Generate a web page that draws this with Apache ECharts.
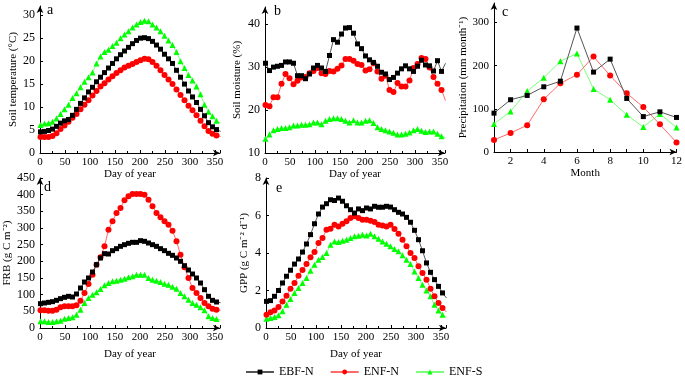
<!DOCTYPE html>
<html><head><meta charset="utf-8">
<script src="https://cdn.jsdelivr.net/npm/echarts@6/dist/echarts.min.js"></script>
<style>html,body{margin:0;padding:0;background:#fff}#c{width:685px;height:378px}</style>
</head><body><div id="c"></div>
<script>
const days = [1,9,17,25,33,41,49,57,65,73,81,89,97,105,113,121,129,137,145,153,161,169,177,185,193,201,209,217,225,233,241,249,257,265,273,281,289,297,305,313,321,329,337,345,353,361];
const months = [1,2,3,4,5,6,7,8,9,10,11,12];
const seriesNames = ['EBF-N','ENF-N','ENF-S'];

// a: soil temperature
const tempEBFN = [4.6,4.7,4.9,5.2,5.8,6.5,7.0,7.3,8.2,9.5,10.8,12.0,13.3,14.3,15.5,16.5,17.5,18.5,19.5,20.5,21.4,22.2,23.0,23.8,24.5,25.0,25.1,24.9,24.3,23.5,22.6,21.5,20.5,19.5,18.0,16.5,15.0,13.5,12.2,11.0,9.5,8.1,6.6,5.7,5.1,4.7];
const tempENFN = [3.5,3.5,3.5,3.7,4.3,5.2,6.0,6.8,7.7,8.5,9.5,10.5,11.5,12.5,13.5,14.5,15.2,16.0,16.7,17.4,18.0,18.6,19.0,19.4,19.8,20.2,20.5,20.4,19.8,19.0,18.0,17.0,16.0,15.0,13.8,12.6,11.5,10.3,9.3,8.2,7.0,5.8,4.8,4.2,3.8,3.6];
const tempENFS = [6.1,6.4,6.5,6.8,7.5,8.5,9.5,10.5,12.0,13.0,14.3,15.5,16.5,17.5,19.5,21.0,22.0,22.5,23.3,24.0,25.0,25.8,26.5,27.3,28.0,28.5,28.8,28.7,28.0,27.3,26.5,25.5,24.5,23.5,22.0,20.0,18.5,17.0,15.8,14.5,12.8,10.5,9.0,8.0,7.0,6.5];

// b: soil moisture
const moistEBFN = [30.9,29.2,30.0,30.2,30.4,31.2,31.2,30.9,28.0,28.0,27.3,28.4,29.8,30.4,29.8,29.0,32.7,36.4,35.8,37.7,39.1,39.2,37.9,35.4,34.3,32.6,31.7,31.1,30.2,28.8,28.4,27.1,27.6,28.6,29.6,30.3,29.6,29.0,30.2,31.6,30.5,30.3,29.1,31.5,29.0,30.9];
const moistENFN = [21.2,20.9,23.0,23.0,26.1,28.4,27.4,26.0,26.8,27.6,27.7,28.6,29.1,29.8,28.6,28.4,29.1,29.0,29.6,30.4,31.9,31.9,31.5,30.7,30.5,29.2,29.5,30.9,29.0,27.3,28.0,24.7,24.2,26.3,25.5,25.5,26.9,29.8,30.7,32.1,31.9,29.9,27.7,26.1,24.7,22.2];
const moistENFS = [13.3,14.3,15.3,15.6,15.8,15.8,16.0,16.4,16.4,16.6,16.6,16.7,17.1,17.1,16.7,17.5,17.9,18.1,18.1,17.9,17.5,17.1,17.6,17.1,17.1,17.5,17.6,17.0,16.0,15.6,15.3,15.0,14.7,14.3,14.3,14.5,14.8,15.3,15.6,15.2,14.9,15.0,15.0,14.5,13.9,13.6];

// c: precipitation
const precEBFN = [90,121,131,151,164,287,185,215,124,82,93,80];
const precENFN = [28,44,62,122,159,179,221,177,136,104,64,22];
const precENFS = [65,94,141,172,210,228,146,121,86,58,88,57];

// d: FRB
const frbEBFN = [73,75,77,79,83,88,92,95,93,102,120,138,150,168,190,210,223,222,232,238,245,250,254,257,257,262,260,255,250,245,238,232,224,218,210,200,187,174,162,150,135,115,95,83,78,76];
const frbENFN = [53,53,52,52,55,62,65,65,65,68,82,105,132,160,190,212,245,295,320,345,360,383,395,402,402,402,400,385,365,345,332,320,310,292,260,220,182,150,120,105,90,75,65,58,55,53];
const frbENFS = [20,20,18,18,20,22,28,30,32,40,55,75,90,100,107,117,128,135,140,142,145,148,152,155,160,160,160,150,145,142,138,133,130,124,118,105,95,85,75,70,62,53,35,30,27,25];

// e: GPP
const gppEBFN = [1.42,1.46,1.69,2.0,2.4,2.76,3.08,3.41,3.68,4.05,4.48,4.98,5.56,6.08,6.45,6.63,6.84,6.8,6.93,6.76,6.52,6.31,6.13,6.35,6.26,6.4,6.35,6.49,6.44,6.44,6.49,6.45,6.31,6.17,6.08,5.9,5.64,5.21,4.71,4.12,3.47,2.97,2.58,2.22,1.87,1.6];
const gppENFN = [0.71,0.84,0.94,1.12,1.42,1.72,2.1,2.4,2.79,3.1,3.41,3.77,4.05,4.53,4.8,5.24,5.3,5.51,5.42,5.56,5.69,5.87,5.96,5.87,5.78,5.78,5.72,5.65,5.51,5.47,5.42,5.51,5.28,5.03,4.71,4.36,4.0,3.73,3.29,2.93,2.58,2.1,1.69,1.33,1.07,0.85];
const gppENFS = [0.5,0.53,0.59,0.68,0.89,1.24,1.55,1.87,2.13,2.4,2.67,3.06,3.38,3.64,3.79,4.0,4.44,4.62,4.59,4.66,4.71,4.8,4.89,4.92,4.98,4.94,5.03,4.89,4.76,4.62,4.5,4.36,4.21,4.09,3.88,3.64,3.41,3.02,2.67,2.31,2.0,1.69,1.24,0.94,0.71,0.57];

const FONT = 'Liberation Serif';
const styles = [
  {symbol:'rect', size:5, color:'#000000', line:'#555555'},
  {symbol:'circle', size:6, color:'#ff0000', line:'#ff6a6a'},
  {symbol:'triangle', size:6, color:'#00ff00', line:'#7cff7c'}
];

function xAxisDef(gi, name, min, max, interval, nameGap, opts) {
  return Object.assign({
    type:'value', gridIndex:gi, min:min, max:max, interval:interval,
    name:name, nameLocation:'middle', nameGap:nameGap,
    nameTextStyle:{fontFamily:FONT, fontSize:11, color:'#000'},
    axisLine:{show:true, onZero:false, symbol:['none','arrow'], symbolSize:[5,7], lineStyle:{color:'#000', width:1}},
    axisTick:{show:true, inside:true, length:3, lineStyle:{color:'#000'}},
    minorTick:{show:true, splitNumber:2, length:2, lineStyle:{color:'#000'}},
    axisLabel:{fontFamily:FONT, fontSize:11, color:'#000', margin:4, showMaxLabel:false},
    splitLine:{show:false}
  }, opts || {});
}
function yAxisDef(gi, name, min, max, interval, nameGap, fs) {
  return {
    type:'value', gridIndex:gi, min:min, max:max, interval:interval,
    name:name, nameLocation:'middle', nameGap:nameGap,
    nameTextStyle:{fontFamily:FONT, fontSize:11, color:'#000'},
    axisLine:{show:true, onZero:false, symbol:['none','arrow'], symbolSize:[5,7], lineStyle:{color:'#000', width:1}},
    axisTick:{show:true, inside:true, length:3, lineStyle:{color:'#000'}},
    axisLabel:{fontFamily:FONT, fontSize:fs, color:'#000', margin:5, showMaxLabel:(max % interval === 0)},
    splitLine:{show:false}
  };
}

function pairs(xs, ys){ return xs.map((x,i)=>[x, ys[i]]); }

const panels = [
  {data:[tempEBFN,tempENFN,tempENFS], xs:days},
  {data:[moistEBFN,moistENFN,moistENFS], xs:days},
  {data:[precEBFN,precENFN,precENFS], xs:months},
  {data:[frbEBFN,frbENFN,frbENFS], xs:days},
  {data:[gppEBFN,gppENFN,gppENFS], xs:days}
];

const series = [];
panels.forEach((p, gi) => {
  p.data.forEach((vals, si) => {
    const st = styles[si];
    series.push({
      type:'line', name:seriesNames[si], xAxisIndex:gi, yAxisIndex:gi,
      data:pairs(p.xs, vals), symbol:st.symbol, symbolSize:st.size,
      itemStyle:{color:st.color}, lineStyle:{color:st.line, width:1},
      emphasis:{disabled:true}, animation:false, z: 3 - si
    });
  });
});

const option = {
  animation:false,
  backgroundColor:'#ffffff',
  grid:[
    {left:40, top:6, width:180, height:147},
    {left:265, top:7, width:180, height:146},
    {left:494, top:3, width:186, height:149},
    {left:40, top:178, width:180, height:150},
    {left:266, top:178, width:180, height:150}
  ],
  xAxis:[
    xAxisDef(0,'Day of year',0,360,50,16),
    xAxisDef(1,'Day of year',0,360,50,16),
    xAxisDef(2,'Month',1,12,1,16,{minorTick:{show:false}, axisLabel:{fontFamily:FONT, fontSize:11, color:'#000', margin:4, formatter:v => (v % 2 === 0 ? String(v) : '')}}),
    xAxisDef(3,'Day of year',0,360,50,21),
    xAxisDef(4,'Day of year',0,360,50,21)
  ],
  yAxis:[
    yAxisDef(0,'Soil temperature (°C)',0,32,5,21,12),
    yAxisDef(1,'Soil moisture (%)',10,44,10,22,12),
    yAxisDef(2,'Precipitation (mm month⁻¹)',0,345,100,20,11),
    yAxisDef(3,'FRB (g C m⁻²)',0,450,50,27,12),
    yAxisDef(4,'GPP (g C m⁻² d⁻¹)',0,8,2,16,12)
  ],
  legend:{
    data:seriesNames, left:245, top:366, padding:0, itemWidth:28, itemHeight:6, itemGap:16,
    textStyle:{fontFamily:FONT, fontSize:12, color:'#000'}
  },
  graphic:[
    {type:'text', left:47, top:3, style:{text:'a', font:'14px "Liberation Serif"', fill:'#000'}},
    {type:'text', left:274, top:4, style:{text:'b', font:'14px "Liberation Serif"', fill:'#000'}},
    {type:'text', left:502, top:5, style:{text:'c', font:'14px "Liberation Serif"', fill:'#000'}},
    {type:'text', left:44, top:180, style:{text:'d', font:'14px "Liberation Serif"', fill:'#000'}},
    {type:'text', left:276, top:181, style:{text:'e', font:'14px "Liberation Serif"', fill:'#000'}}
  ],
  series:series
};
const chart = echarts.init(document.getElementById('c'), null, {renderer:'canvas'});
chart.setOption(option);
</script></body></html>
